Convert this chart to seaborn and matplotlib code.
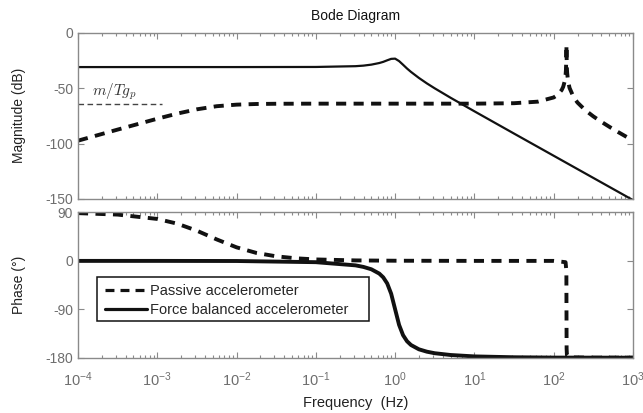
import numpy as np
import pandas as pd
import matplotlib
matplotlib.use("Agg")
import matplotlib.pyplot as plt
import seaborn as sns
from matplotlib.lines import Line2D
from matplotlib.patches import Rectangle
from matplotlib.ticker import LogLocator, FixedLocator, NullFormatter, FuncFormatter

# ---------------- data ----------------
# Passive accelerometer, magnitude (dB)
pas_mag_logf = [-4, -3.5, -3, -2.75, -2.5, -2.25, -2.0, -1.75, -1.5, -1.0, 0.0, 1.0, 1.5,
                1.8, 2.0, 2.05, 2.1, 2.12, 2.14, 2.15, 2.155, 2.16, 2.1614, 2.163, 2.167,
                2.17, 2.18, 2.2, 2.25, 2.3, 2.4, 2.5, 2.6, 2.7, 2.8, 2.9, 3.0]
pas_mag = [-97.4, -87.4, -77.6, -73.0, -69.1, -66.3, -64.9, -64.3, -64.1, -64.0, -64.0, -64.0, -63.6,
           -62.2, -58.4, -56.1, -51.8, -48.8, -43.5, -38.2, -33.0, -20.6, -11.0, -21.8, -32.6,
           -36.3, -43.1, -49.8, -58.0, -63.0, -70.0, -75.5, -80.3, -84.8, -89.1, -93.2, -97.4]

# Passive accelerometer, phase (deg)
pas_ph_logf = [-4, -3.5, -3, -2.75, -2.5, -2.25, -2.0, -1.75, -1.5, -1.25, -1.0, -0.5, 0.0,
               1.0, 2.0, 2.15, 2.16, 2.1614, 2.163, 2.167, 2.2, 2.5, 3.0]
pas_ph = [88.8, 86.1, 78.0, 69.3, 56.1, 39.9, 25.2, 14.8, 8.5, 4.8, 2.7, 0.9, 0.3,
          0.0, 0.0, -2.4, -19.0, -90.0, -163.0, -175.0, -179.4, -180.0, -180.0]

# Force balanced accelerometer, magnitude (dB)
fb_mag_logf = [-4, -3, -2, -1, -0.5, -0.4, -0.3, -0.2, -0.15, -0.1, -0.05, 0.0, 0.05, 0.1,
               0.15, 0.2, 0.3, 0.4, 0.5, 0.7, 1.0, 1.5, 2.0, 2.5, 3.0]
fb_mag = [-31.0, -31.0, -31.0, -30.9, -30.2, -29.7, -28.8, -27.35, -26.3, -24.9, -23.6, -23.4, -25.6, -28.9,
          -32.3, -35.35, -40.8, -45.7, -50.2, -58.7, -70.9, -91.0, -111.0, -131.0, -151.0]

# Force balanced accelerometer, phase (deg)
fb_ph_logf = [-4, -3, -2, -1, -0.5, -0.4, -0.3, -0.2, -0.15, -0.1, -0.05, 0.0, 0.05, 0.1,
              0.15, 0.2, 0.3, 0.4, 0.5, 0.7, 1.0, 1.5, 2.0, 3.0]
fb_ph = [0.0, 0.0, -0.2, -2.4, -8.3, -11.2, -15.6, -23.6, -30.6, -41.9, -61.0, -90.0, -119.0, -138.1,
         -149.4, -156.4, -164.4, -168.8, -171.7, -175.0, -177.6, -179.2, -179.8, -180.0]

# m/Tg_p reference level
ref_freq = [1e-4, 1.15e-3]
ref_level = [-64.0, -64.0]

freq_ticks = [1e-4, 1e-3, 1e-2, 1e-1, 1e0, 1e1, 1e2, 1e3]
mag_ticks = [0, -50, -100, -150]
ph_ticks = [90, 0, -90, -180]
labels = ["Passive accelerometer", "Force balanced accelerometer"]

# ---------------- style ----------------
sns.set_theme(style="ticks")
plt.rcParams["font.family"] = ["Liberation Sans", "DejaVu Sans"]
plt.rcParams["mathtext.fontset"] = "custom"
plt.rcParams["mathtext.rm"] = "Liberation Sans"
plt.rcParams["mathtext.it"] = "Liberation Sans:italic"
plt.rcParams["mathtext.bf"] = "Liberation Sans:bold"
plt.rcParams["axes.unicode_minus"] = False

SPINE = "#8a8a8a"
TICKLAB = "#6e6e6e"

fig = plt.figure(figsize=(6.43, 4.13), dpi=100)
ax1 = fig.add_axes([0.1213, 0.5182, 0.8631, 0.4026])
ax2 = fig.add_axes([0.1213, 0.1339, 0.8631, 0.3516])

def freq(logs):
    return [10.0 ** v for v in logs]

# magnitude
sns.lineplot(x=freq(fb_mag_logf), y=fb_mag, ax=ax1, color="#111111", lw=1.6,
             estimator=None, sort=False)
sns.lineplot(x=freq(pas_mag_logf), y=pas_mag, ax=ax1, color="#111111", lw=2.8,
             estimator=None, sort=False)
ax1.lines[-1].set_dashes((2.6, 1.9))
sns.lineplot(x=ref_freq, y=ref_level, ax=ax1, color="#444444", lw=1.0,
             estimator=None, sort=False)
ax1.lines[-1].set_dashes((4, 2.5))
ax1.text(1.5e-4, -53.5, r"$m/Tg_p$", math_fontfamily="cm", fontsize=11,
         va="center", ha="left", color="#333333")

# phase
sns.lineplot(x=freq(fb_ph_logf), y=fb_ph, ax=ax2, color="#111111", lw=2.8,
             estimator=None, sort=False)
sns.lineplot(x=freq(pas_ph_logf), y=pas_ph, ax=ax2, color="#111111", lw=2.8,
             estimator=None, sort=False)
ax2.lines[-1].set_dashes((2.6, 1.9))

fmt = FuncFormatter(lambda v, p: r"$10^{%d}$" % int(round(np.log10(v))))
for ax in (ax1, ax2):
    ax.set_xscale("log")
    ax.set_xlim(1e-4, 1e3)
    ax.xaxis.set_major_locator(FixedLocator(freq_ticks))
    ax.xaxis.set_minor_locator(LogLocator(base=10, subs=np.arange(2, 10), numticks=20))
    ax.xaxis.set_minor_formatter(NullFormatter())
    for s in ax.spines.values():
        s.set_color(SPINE)
        s.set_linewidth(1.0)
    ax.tick_params(which="both", direction="in", top=True, right=True, color=SPINE,
                   labelcolor=TICKLAB, labelsize=10, width=0.8)
    ax.tick_params(which="major", length=4)
    ax.tick_params(which="minor", length=2.2)
    ax.set_xlabel("")
    ax.set_ylabel("")

ax1.set_ylim(-150, 0)
ax1.yaxis.set_major_locator(FixedLocator(mag_ticks))
ax1.xaxis.set_major_formatter(NullFormatter())
ax2.set_ylim(-180, 90)
ax2.yaxis.set_major_locator(FixedLocator(ph_ticks))
ax2.xaxis.set_major_formatter(fmt)
ax2.tick_params(axis="x", which="major", pad=9, labelsize=10.5)

ax1.set_title("Bode Diagram", fontsize=10, color="#111111", pad=9)
ax1.set_ylabel("Magnitude (dB)", fontsize=10, color="#222222")
ax2.set_ylabel("Phase (°)", fontsize=10, color="#222222")
ax2.set_xlabel("Frequency  (Hz)", fontsize=10.5, color="#222222")
ax1.yaxis.set_label_coords(-0.093, 0.5)
ax2.yaxis.set_label_coords(-0.093, 0.5)
ax2.xaxis.set_label_coords(0.5, -0.265)

# legend: frame drawn as a box, entries placed inside it
ax2.add_patch(Rectangle((0.0342, 0.253), 0.490, 0.303, transform=ax2.transAxes,
                        facecolor="white", edgecolor="#111111", lw=1.1, zorder=4))
handles = [Line2D([], [], color="#111111", lw=2.3, dashes=(2.8, 1.9)),
           Line2D([], [], color="#111111", lw=2.3)]
leg = ax2.legend(handles, labels, loc="upper left", bbox_to_anchor=(0.0486, 0.505),
                 borderaxespad=0, frameon=False, fontsize=10.5, handlelength=2.9,
                 handletextpad=0.2, labelspacing=0.3, borderpad=0)
leg.set_zorder(6)

fig.savefig("out.png", dpi=100)
